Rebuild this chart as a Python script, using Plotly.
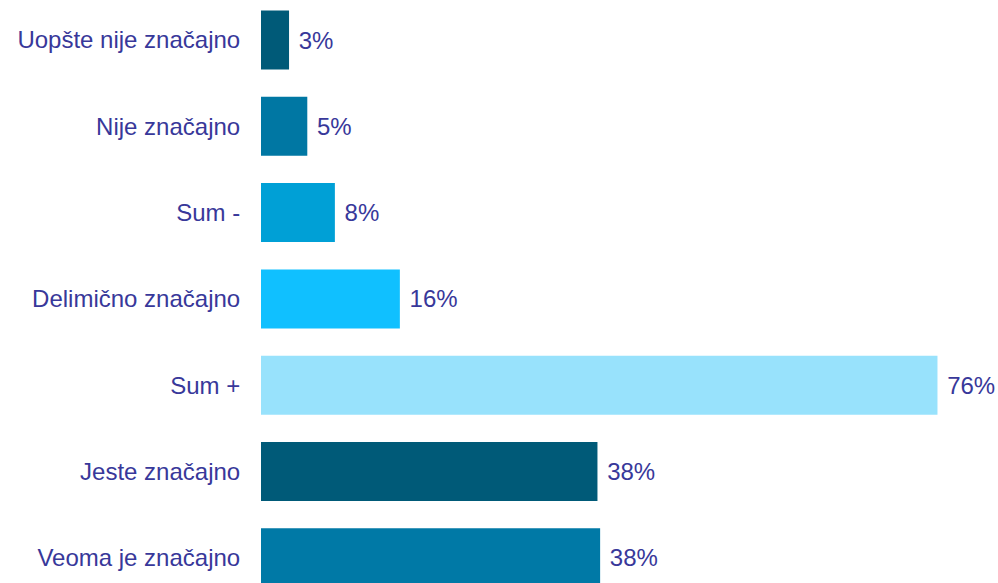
import plotly.graph_objects as go

categories = ["Uopšte nije značajno", "Nije značajno", "Sum -", "Delimično značajno",
              "Sum +", "Jeste značajno", "Veoma je značajno"]
values = [3.15, 5.2, 8.3, 15.6, 76.0, 37.8, 38.1]
colors = ["#005a78", "#0077a3", "#00a0d6", "#10c0ff", "#98e2fc", "#005a78", "#0079a6"]

txt_color = "#38389a"
font_family = "Liberation Sans, Arial, sans-serif"

fig = go.Figure(go.Bar(
    x=values,
    y=categories,
    orientation="h",
    marker=dict(color=colors, line=dict(width=0)),
    width=0.684,
    texttemplate="\u00a0%{x:.0f}%",
    textposition="outside",
    textfont=dict(family=font_family, size=24, color=txt_color),
    constraintext="none",
    cliponaxis=False,
    hoverinfo="skip",
))

fig.update_layout(
    width=998, height=583,
    margin=dict(l=261, r=0, t=0, b=0),
    paper_bgcolor="white", plot_bgcolor="white",
    showlegend=False,
)
fig.update_xaxes(range=[0, 82.8], visible=False, showgrid=False, zeroline=False)
fig.update_yaxes(
    type="category",
    categoryorder="array", categoryarray=categories,
    range=[6.292, -0.4635],
    showgrid=False, zeroline=False, showline=False,
    ticks="outside", ticklen=15, tickcolor="rgba(0,0,0,0)",
    tickfont=dict(family=font_family, size=24, color=txt_color),
    automargin=False,
)

fig.write_html("out.html",
               config={"displayModeBar": False, "staticPlot": True},
               post_script="document.body.style.margin='0';document.body.style.overflow='hidden';")
